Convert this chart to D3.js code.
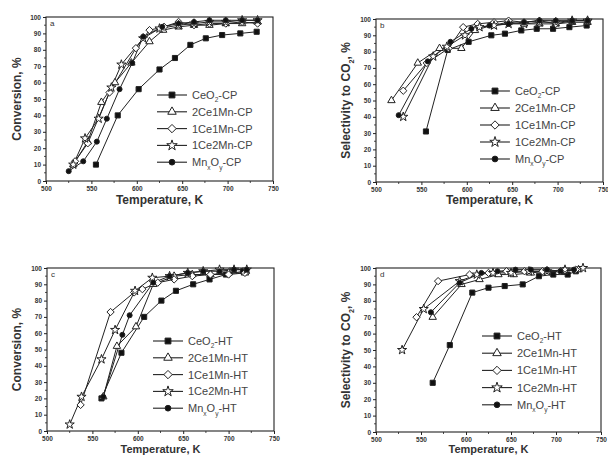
<!DOCTYPE html>
<html><head><meta charset="utf-8">
<script src="https://cdn.jsdelivr.net/npm/d3@7"></script>
<style>
body{margin:0;background:#fff}
svg{display:block}
text{font-family:"Liberation Sans",Arial,sans-serif}
</style>
</head><body>
<svg id="chart" width="608" height="456"></svg>
<script>
// Axis ticks shared by all four panels
const xTicks = [500, 550, 600, 650, 700, 750];
const yTicks = [0, 10, 20, 30, 40, 50, 60, 70, 80, 90, 100];

// Series names (underscore marks a subscript character)
const cpNames = ["CeO_2-CP", "2Ce1Mn-CP", "1Ce1Mn-CP", "1Ce2Mn-CP", "Mn_xO_y-CP"];
const htNames = ["CeO_2-HT", "2Ce1Mn-HT", "1Ce1Mn-HT", "1Ce2Mn-HT", "Mn_xO_y-HT"];

// (a) conversion, CP catalysts: [temperature K, %]
const aCeO2   = [[555,10],[579,40],[602,56],[625,68],[642,75],[659,83],[676,87],[694,89],[714,90],[732,91]];
const a2Ce1Mn = [[530,10],[546,24],[561,48],[576,60],[594,72],[614,85],[629,92],[646,94],[663,95],[680,95],[698,96],[716,96],[733,97]];
const a1Ce1Mn = [[532,12],[546,23],[570,54],[599,81],[614,92],[630,94],[646,97],[663,95],[680,96],[698,96],[716,97],[733,96]];
const a1Ce2Mn = [[530,10],[543,26],[558,38],[572,57],[583,71],[607,87],[625,93],[646,95],[663,96],[680,97],[698,97],[716,98],[733,98]];
const aMnOx   = [[525,6],[541,12],[556,24],[567,38],[581,56],[595,72],[607,88],[628,94],[646,96],[663,97],[680,98],[698,98],[716,98],[733,98]];

// (b) selectivity to CO2, CP catalysts
const bCeO2   = [[555,31],[579,81],[602,86],[627,90],[642,91],[660,93],[677,94],[695,94],[713,95],[732,96]];
const b2Ce1Mn = [[517,50],[546,73],[570,82],[594,82],[609,93],[627,96],[646,98],[663,97],[680,97],[698,97],[716,98],[733,98]];
const b1Ce1Mn = [[530,56],[556,73],[580,82],[596,95],[612,97],[630,98],[646,99],[663,98],[680,99],[698,97],[716,99],[733,99]];
const b1Ce2Mn = [[530,40],[563,77],[578,83],[598,90],[614,95],[630,96],[646,97],[663,97],[680,98],[698,98],[716,99],[733,99]];
const bMnOx   = [[525,41],[557,74],[582,86],[605,94],[625,96],[646,97],[663,98],[680,99],[698,99],[716,99],[733,99]];

// (c) conversion, HT catalysts
const cCeO2   = [[560,20],[582,48],[607,70],[626,80],[642,86],[661,90],[679,93],[697,96],[716,98]];
const c2Ce1Mn = [[562,21],[577,52],[598,64],[617,90],[640,95],[660,96],[680,96],[700,97],[718,97]];
const c1Ce1Mn = [[537,16],[570,73],[596,85],[605,87],[622,91],[640,93],[660,95],[680,96],[700,96],[718,97]];
const c1Ce2Mn = [[525,4],[538,21],[560,44],[575,62],[597,86],[616,94],[635,95],[655,97],[672,98],[690,99],[706,99],[720,99]];
const cMnOx   = [[562,21],[583,59],[591,71],[617,91],[635,95],[655,97],[672,98],[690,98],[706,99],[720,99]];

// (d) selectivity to CO2, HT catalysts
const dCeO2   = [[563,30],[582,53],[607,85],[625,88],[643,89],[663,90],[681,95],[697,96],[713,96],[722,98]];
const d2Ce1Mn = [[563,70],[595,90],[615,93],[636,96],[653,96],[672,97],[690,98],[708,98],[725,99]];
const d1Ce1Mn = [[545,70],[569,92],[604,96],[625,97],[645,98],[665,98],[685,98],[705,98],[722,99]];
const d1Ce2Mn = [[529,50],[553,75],[593,92],[612,96],[630,97],[650,97],[670,98],[690,98],[710,99],[730,100]];
const dMnOx   = [[561,73],[593,91],[617,97],[635,98],[655,99],[672,99],[690,99],[705,98],[720,99]];

// Marker style per series position
const markers = [
  {type: d3.symbolSquare,   size: 26, fill: "#111"},
  {type: d3.symbolTriangle, size: 24, fill: "#fff"},
  {type: d3.symbolDiamond2, size: 34, fill: "#fff"},
  {type: d3.symbolStar,     size: 26, fill: "#fff"},
  {type: d3.symbolCircle,   size: 20, fill: "#111"}
];
const ink = "#222";

const svg = d3.select("#chart");

// Writes a label, turning "_c" into a subscript c
function richText(sel, label, size) {
  const parts = [];
  for (let i = 0; i < label.length; i++) {
    if (label[i] === "_") { parts.push({t: label[i + 1], sub: true}); i++; }
    else {
      if (parts.length && !parts[parts.length - 1].sub) parts[parts.length - 1].t += label[i];
      else parts.push({t: label[i], sub: false});
    }
  }
  let shift = 0;
  parts.forEach(p => {
    const ts = sel.append("tspan").text(p.t);
    if (p.sub) { ts.attr("font-size", size * 0.6).attr("dy", size * 0.3 - shift); shift = size * 0.3; }
    else if (shift) { ts.attr("dy", -shift); shift = 0; }
  });
}

function panel(cfg) {
  const x = d3.scaleLinear().domain([500, 750]).range([cfg.left, cfg.right]);
  const y = d3.scaleLinear().domain([0, 100]).range([cfg.bottom, cfg.top]);
  const g = svg.append("g");

  // minor ticks
  const xMinor = d3.range(525, 750, 50);
  const yMinor = d3.range(5, 100, 10);
  g.selectAll(".xm").data(xMinor).join("line")
    .attr("x1", d => x(d)).attr("x2", d => x(d))
    .attr("y1", cfg.bottom).attr("y2", cfg.bottom + 2)
    .attr("stroke", ink).attr("stroke-width", 0.8);
  g.selectAll(".ym").data(yMinor).join("line")
    .attr("y1", d => y(d)).attr("y2", d => y(d))
    .attr("x1", cfg.left).attr("x2", cfg.left - 2)
    .attr("stroke", ink).attr("stroke-width", 0.8);

  const xAxis = d3.axisBottom(x).tickValues(xTicks).tickSize(3).tickPadding(2);
  const yAxis = d3.axisLeft(y).tickValues(yTicks).tickSize(3).tickPadding(2);
  const gx = g.append("g").attr("transform", `translate(0,${cfg.bottom})`).call(xAxis);
  const gy = g.append("g").attr("transform", `translate(${cfg.left},0)`).call(yAxis);
  [gx, gy].forEach(a => {
    a.select(".domain").remove();
    a.selectAll("line").attr("stroke", ink);
    a.selectAll("text").attr("font-size", 6.5).attr("font-weight", "bold")
      .attr("fill", "#333").attr("font-family", "Liberation Sans, Arial, sans-serif");
  });

  // frame
  g.append("rect").attr("x", cfg.left).attr("y", cfg.top)
    .attr("width", cfg.right - cfg.left).attr("height", cfg.bottom - cfg.top)
    .attr("fill", "none").attr("stroke", ink).attr("stroke-width", 1.1);

  g.append("text").attr("x", cfg.left + 4).attr("y", cfg.top + 9)
    .attr("font-size", 8).attr("fill", "#333").text(cfg.letter);

  const line = d3.line().x(d => x(d[0])).y(d => y(d[1]));
  cfg.series.forEach((s, i) => {
    g.append("path").datum(s).attr("d", line)
      .attr("fill", "none").attr("stroke", ink).attr("stroke-width", 1);
  });
  cfg.series.forEach((s, i) => {
    const m = markers[i];
    g.selectAll(null).data(s).join("path")
      .attr("transform", d => `translate(${x(d[0])},${y(d[1])})`)
      .attr("d", d3.symbol().type(m.type).size(m.size))
      .attr("fill", m.fill).attr("stroke", ink).attr("stroke-width", 1);
  });

  // legend
  cfg.names.forEach((n, i) => {
    const ly = cfg.legY + i * cfg.legStep;
    g.append("line").attr("x1", cfg.legX).attr("x2", cfg.legX + 30)
      .attr("y1", ly).attr("y2", ly).attr("stroke", ink).attr("stroke-width", 1.1);
    const m = markers[i];
    g.append("path").attr("transform", `translate(${cfg.legX + 15},${ly})`)
      .attr("d", d3.symbol().type(m.type).size(m.size * 1.3))
      .attr("fill", m.fill).attr("stroke", ink).attr("stroke-width", 1);
    const t = g.append("text").attr("x", cfg.legX + 35).attr("y", ly + 4)
      .attr("font-size", 11).attr("fill", "#444");
    richText(t, n, 11);
  });

  // axis titles
  g.append("text").attr("x", (cfg.left + cfg.right) / 2).attr("y", cfg.xTitleY)
    .attr("text-anchor", "middle").attr("font-size", cfg.xTitleSize).attr("font-weight", "bold")
    .attr("fill", "#333").text("Temperature, K");
  const yt = g.append("text")
    .attr("transform", `translate(${cfg.yTitleX},${(cfg.top + cfg.bottom) / 2}) rotate(-90)`)
    .attr("text-anchor", "middle").attr("font-size", 12).attr("font-weight", "bold")
    .attr("fill", "#333");
  richText(yt, cfg.yTitle, 12);
}

panel({left: 46, right: 273, top: 17, bottom: 181, letter: "a",
  series: [aCeO2, a2Ce1Mn, a1Ce1Mn, a1Ce2Mn, aMnOx], names: cpNames,
  legX: 157, legY: 95, legStep: 16.8, xTitleY: 204, xTitleSize: 12, yTitleX: 21, yTitle: "Conversion, %"});
panel({left: 376, right: 603, top: 19, bottom: 182, letter: "b",
  series: [bCeO2, b2Ce1Mn, b1Ce1Mn, b1Ce2Mn, bMnOx], names: cpNames,
  legX: 480, legY: 91, legStep: 17, xTitleY: 204, xTitleSize: 12, yTitleX: 350, yTitle: "Selectivity to CO_2, %"});
panel({left: 47, right: 274, top: 268, bottom: 431, letter: "c",
  series: [cCeO2, c2Ce1Mn, c1Ce1Mn, c1Ce2Mn, cMnOx], names: htNames,
  legX: 153, legY: 341, legStep: 16.8, xTitleY: 453, xTitleSize: 11, yTitleX: 21, yTitle: "Conversion, %"});
panel({left: 376, right: 601, top: 268, bottom: 432, letter: "d",
  series: [dCeO2, d2Ce1Mn, d1Ce1Mn, d1Ce2Mn, dMnOx], names: htNames,
  legX: 482, legY: 336, legStep: 17.2, xTitleY: 453, xTitleSize: 11, yTitleX: 350, yTitle: "Selectivity to CO_2, %"});
</script>
</body></html>
